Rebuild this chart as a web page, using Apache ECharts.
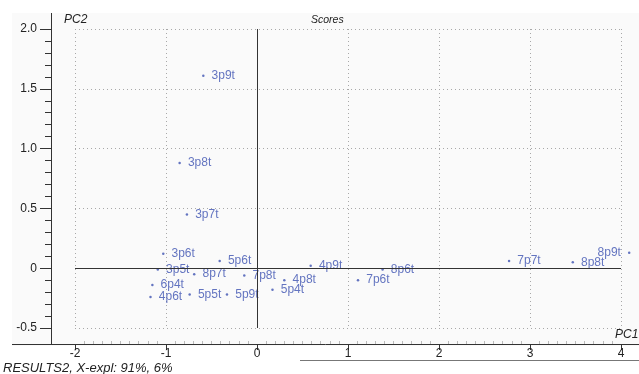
<!DOCTYPE html>
<html>
<head>
<meta charset="utf-8">
<script src="https://cdn.jsdelivr.net/npm/echarts@6/dist/echarts.min.js"></script>
<style>
  html, body { margin: 0; padding: 0; background: #ffffff; }
  #chart { width: 639px; height: 374px; }
</style>
</head>
<body>
<div id="chart"></div>
<script>
// PCA score plot: sample names with their PC1 / PC2 scores
const sampleNames = ['3p9t', '3p8t', '3p7t', '3p6t', '3p5t', '6p4t', '4p6t', '5p6t', '8p7t', '5p5t',
                     '5p9t', '7p8t', '4p8t', '5p4t', '4p9t', '7p6t', '8p6t', '7p7t', '8p8t', '8p9t'];
const pc1Scores = [-0.59, -0.85, -0.77, -1.03, -1.09, -1.15, -1.17, -0.41, -0.69, -0.74,
                   -0.33, -0.14, 0.30, 0.17, 0.59, 1.11, 1.38, 2.77, 3.47, 4.09];
const pc2Scores = [1.61, 0.88, 0.45, 0.12, -0.01, -0.14, -0.24, 0.06, -0.05, -0.22,
                   -0.22, -0.06, -0.10, -0.18, 0.02, -0.10, -0.01, 0.06, 0.05, 0.13];

const xTickRange = { min: -2, max: 4, step: 1 };
const yTickRange = { min: -0.5, max: 2.0, step: 0.5 };
const footerText = 'RESULTS2, X-expl: 91%, 6%';

const FONT = 'Liberation Sans, Arial, sans-serif';
const INK = '#222222';
const MARK = '#3d52b2';
const GRID_DOT = '#a8a8a8';

const points = sampleNames.map((name, i) => ({
  name: name,
  value: [pc1Scores[i], pc2Scores[i]],
  // names near the right border are written on the left of their point
  label: { position: pc1Scores[i] > xTickRange.max ? 'left' : 'right' }
}));

const chart = echarts.init(document.getElementById('chart'), null, { renderer: 'canvas' });

chart.setOption({
  backgroundColor: '#ffffff',
  animation: false,
  grid: { left: 75, right: 18, top: 29, bottom: 46 },
  graphic: [
    // light panel behind the plot
    { type: 'rect', z: -10, silent: true,
      shape: { x: 12, y: 13, width: 627, height: 333 },
      style: { fill: '#fafafa' } },
    // axis lines run past the scaled range
    { type: 'line', z: 10, silent: true,
      shape: { x1: 51.5, y1: 13, x2: 51.5, y2: 345 },
      style: { stroke: '#333', lineWidth: 1 } },
    { type: 'line', z: 10, silent: true,
      shape: { x1: 12, y1: 344.5, x2: 639, y2: 344.5 },
      style: { stroke: '#333', lineWidth: 1 } },
    { type: 'line', z: 10, silent: true,
      shape: { x1: 300, y1: 360.5, x2: 639, y2: 360.5 },
      style: { stroke: '#777', lineWidth: 1 } },
    { type: 'text', left: 64, top: 14,
      style: { text: 'PC2', font: 'italic 12px ' + FONT, fill: INK } },
    { type: 'text', left: 311, top: 15,
      style: { text: 'Scores', font: 'italic 10.5px ' + FONT, fill: INK } },
    { type: 'text', left: 615, top: 329,
      style: { text: 'PC1', font: 'italic 12px ' + FONT, fill: INK } },
    { type: 'text', left: 3, top: 362,
      style: { text: footerText, font: 'italic 13px ' + FONT, fill: INK } }
  ],
  xAxis: {
    type: 'value',
    min: xTickRange.min, max: xTickRange.max, interval: xTickRange.step,
    offset: 16,
    axisLine: { show: false, onZero: false },
    axisTick: { show: true, length: 6, lineStyle: { color: '#333' } },
    minorTick: { show: true, splitNumber: 10, length: -3, lineStyle: { color: '#bbb' } },
    axisLabel: { color: INK, fontFamily: FONT, fontSize: 12, margin: 4 },
    splitLine: { show: true, lineStyle: { color: GRID_DOT, type: [1, 3], width: 1 } }
  },
  yAxis: {
    type: 'value',
    min: yTickRange.min, max: yTickRange.max, interval: yTickRange.step,
    offset: 24,
    axisLine: { show: false, onZero: false },
    axisTick: { show: true, length: 11, lineStyle: { color: '#333' } },
    minorTick: { show: true, splitNumber: 5, length: 6, lineStyle: { color: '#333' } },
    axisLabel: {
      color: INK, fontFamily: FONT, fontSize: 12, margin: 14,
      formatter: v => (Math.abs(v) < 1e-9 ? '0' : v.toFixed(1))
    },
    splitLine: { show: true, lineStyle: { color: GRID_DOT, type: [1, 3], width: 1 } }
  },
  series: [{
    type: 'scatter',
    clip: false,
    symbol: 'circle',
    symbolSize: 2.5,
    itemStyle: { color: MARK },
    label: {
      show: true,
      formatter: '{b}',
      distance: 7,
      color: MARK,
      fontFamily: FONT,
      fontSize: 12
    },
    data: points,
    markLine: {
      silent: true,
      symbol: 'none',
      label: { show: false },
      lineStyle: { color: '#333', type: 'solid', width: 1 },
      data: [{ xAxis: 0 }, { yAxis: 0 }]
    }
  }]
});
</script>
</body>
</html>
